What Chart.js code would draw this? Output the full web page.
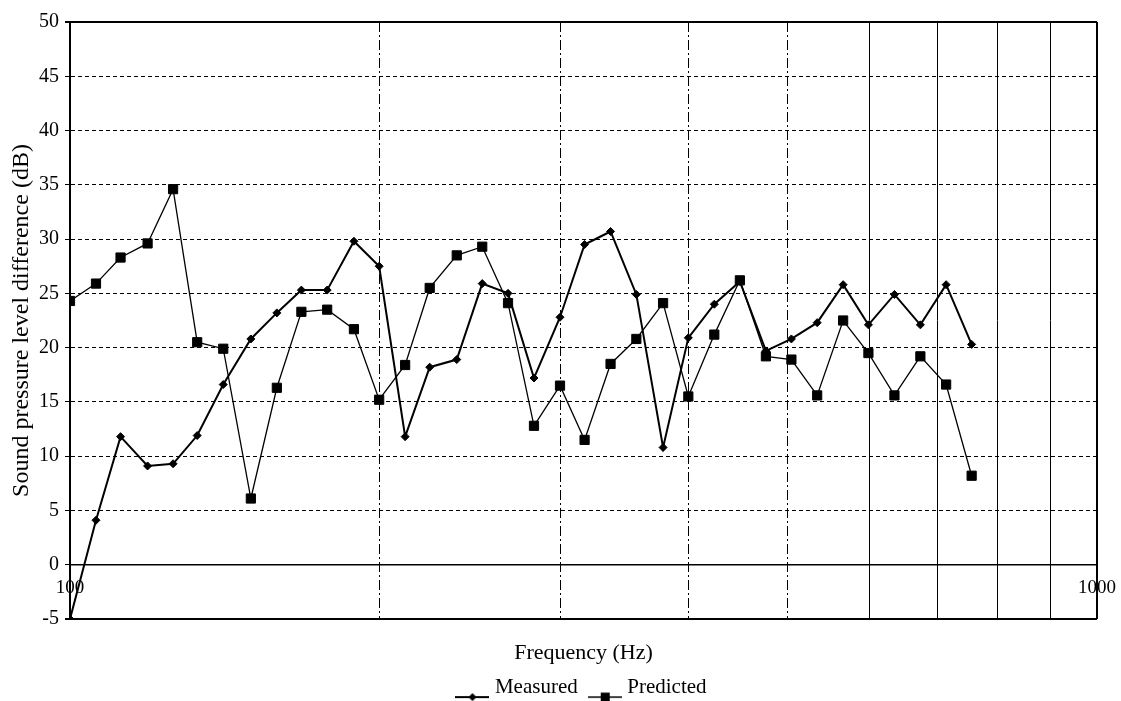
<!DOCTYPE html>
<html><head><meta charset="utf-8">
<script src="https://cdn.jsdelivr.net/npm/chart.js@4/dist/chart.umd.min.js"></script>
<style>html,body{margin:0;padding:0;background:#fff;} #wrap{width:1121px;height:701px;}</style>
</head><body><div id="wrap"><canvas id="c" width="1121" height="701"></canvas></div>
<script>
const frequencies = [100,106,112,119,126,133,141,150,159,168,178,189,200,212,224,238,252,267,283,300,317,336,356,378,400,424,449,476,504,534,566,599,635,673,713,755];
const measured = [-5,4.1,11.8,9.1,9.3,11.9,16.6,20.8,23.2,25.3,25.3,29.8,27.5,11.8,18.2,18.9,25.9,25.0,17.2,22.8,29.5,30.7,24.9,10.8,20.9,24.0,26.1,19.7,20.8,22.3,25.8,22.1,24.9,22.1,25.8,20.3];
const predicted = [24.3,25.9,28.3,29.6,34.6,20.5,19.9,6.1,16.3,23.3,23.5,21.7,15.2,18.4,25.5,28.5,29.3,24.1,12.8,16.5,11.5,18.5,20.8,24.1,15.5,21.2,26.2,19.2,18.9,15.6,22.5,19.5,15.6,19.2,16.6,8.2];
const xGridValues = [100,200,300,400,500,600,700,800,900,1000];
const xTickLabels = ['100','','','','','','','','','1000'];
const seriesNames = ['Measured','Predicted'];

const serif = "'Liberation Serif','Times New Roman',serif";

function legendIcon(kind){
  const c = document.createElement('canvas');
  c.width = 34; c.height = 32;
  const g = c.getContext('2d');
  g.strokeStyle = '#000'; g.fillStyle = '#000';
  g.lineWidth = kind === 'd' ? 2 : 1.3;
  g.beginPath(); g.moveTo(0, 26); g.lineTo(34, 26); g.stroke();
  if (kind === 'd') {
    g.beginPath(); g.moveTo(17, 22); g.lineTo(21, 26); g.lineTo(17, 30); g.lineTo(13, 26); g.closePath(); g.fill();
  } else {
    g.fillRect(13, 21.5, 9, 9);
  }
  return c;
}
const icons = [legendIcon('d'), legendIcon('s')];

new Chart(document.getElementById('c'), {
  type: 'line',
  data: {
    datasets: [
      { label: seriesNames[0], data: frequencies.map((f, i) => ({x: f, y: measured[i]})),
        borderColor: '#000', backgroundColor: '#000', borderWidth: 2,
        pointStyle: 'rectRot', pointRadius: 4, pointBorderWidth: 1, pointBorderColor: '#000', tension: 0 },
      { label: seriesNames[1], data: frequencies.map((f, i) => ({x: f, y: predicted[i]})),
        borderColor: '#000', backgroundColor: '#000', borderWidth: 1.3,
        pointStyle: 'rect', pointRadius: 6.5, pointBorderWidth: 1, pointBorderColor: '#000', tension: 0 }
    ]
  },
  options: {
    responsive: false, animation: false, devicePixelRatio: 1,
    layout: { padding: { left: 0, right: 24, top: 22, bottom: 0 } },
    scales: {
      x: {
        type: 'logarithmic', min: 100, max: 1000, position: { y: 0 },
        afterBuildTicks: s => { s.ticks = xGridValues.map(v => ({ value: v })); },
        afterFit: s => { s.paddingLeft = 0; s.paddingRight = 0; },
        ticks: { autoSkip: false, maxRotation: 0, minRotation: 0, padding: 12, color: '#000',
          font: { family: serif, size: 19 }, callback: (v, i) => xTickLabels[i] },
        grid: { color: '#000', drawTicks: false,
          lineWidth: c => (c.tick && c.tick.value === 1000) ? 2 : 1 },
        border: { display: true, color: '#000', width: 1.5,
          dash: c => (c.type === 'tick' && c.tick && c.tick.value > 100 && c.tick.value <= 500) ? [10, 3, 2, 3] : [] }
      },
      y: {
        min: -5, max: 50,
        afterFit: s => { s.width = 70; },
        ticks: { stepSize: 5, color: '#000', padding: 6, font: { family: serif, size: 20 } },
        grid: { color: '#000', tickLength: 5,
          lineWidth: c => (c.tick && (c.tick.value === -5 || c.tick.value === 50)) ? 2 : 1 },
        border: { display: true, color: '#000', width: 2,
          dash: c => (c.type === 'tick' && c.tick && ![-5, 0, 50].includes(c.tick.value)) ? [4, 3] : [] },
        title: { display: true, text: 'Sound pressure level difference (dB)', color: '#000',
          font: { family: serif, size: 24 }, padding: { top: 7, bottom: 0 } }
      }
    },
    plugins: {
      legend: {
        position: 'bottom', fullSize: false, maxHeight: 39.4,
        labels: {
          usePointStyle: true, pointStyleWidth: 24, padding: 15, color: '#000',
          font: { family: serif, size: 21 },
          generateLabels: chart => chart.data.datasets.map((d, i) => ({
            text: d.label, pointStyle: icons[i], fillStyle: '#000', strokeStyle: '#000',
            lineWidth: 0, hidden: false, datasetIndex: i, fontColor: '#000' }))
        }
      },
      title: {
        display: true, position: 'bottom', fullSize: false, weight: 500,
        text: 'Frequency (Hz)', color: '#000',
        font: { family: serif, size: 22, weight: 'normal', lineHeight: 0.8 },
        padding: { top: 25, bottom: 0 }
      },
      tooltip: { enabled: false }
    }
  }
});
</script>
</body></html>
